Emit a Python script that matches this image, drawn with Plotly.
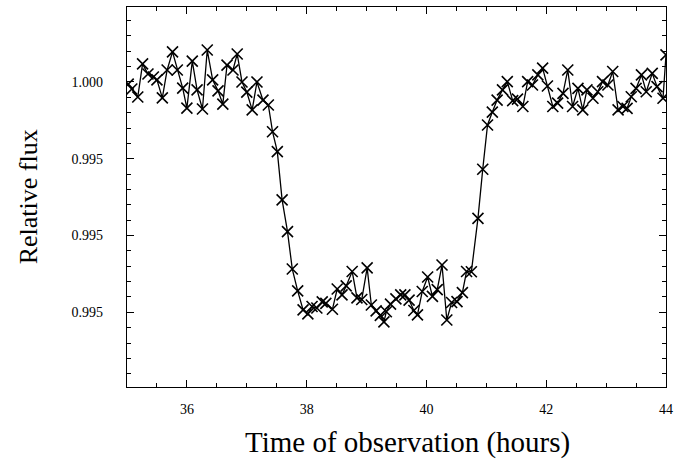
import plotly.graph_objects as go

time_hours = [35.02, 35.08, 35.18, 35.26, 35.35, 35.44, 35.50, 35.59, 35.67, 35.76,
              35.84, 35.93, 36.00, 36.09, 36.17, 36.26, 36.34, 36.43, 36.52, 36.60,
              36.67, 36.77, 36.84, 36.92, 37.00, 37.09, 37.17, 37.27, 37.36, 37.43,
              37.51, 37.59, 37.68, 37.76, 37.85, 37.94, 38.02, 38.09, 38.17, 38.26,
              38.32, 38.43, 38.51, 38.59, 38.66, 38.76, 38.84, 38.92, 39.01, 39.08,
              39.16, 39.23, 39.29, 39.33, 39.40, 39.49, 39.57, 39.64, 39.71, 39.79,
              39.85, 39.93, 40.02, 40.10, 40.18, 40.26, 40.34, 40.42, 40.51, 40.60,
              40.67, 40.75, 40.86, 40.94, 41.02, 41.10, 41.18, 41.27, 41.35, 41.44,
              41.52, 41.61, 41.69, 41.77, 41.86, 41.94, 42.02, 42.11, 42.19, 42.28,
              42.36, 42.44, 42.53, 42.61, 42.68, 42.78, 42.86, 42.94, 43.03, 43.11,
              43.20, 43.28, 43.35, 43.42, 43.50, 43.59, 43.67, 43.77, 43.85, 43.95,
              44.00]

relative_flux = [0.99993, 0.99977, 0.99951, 1.00059, 1.00026, 1.00016, 1.00007, 0.99948, 1.00039, 1.00098,
                 1.00039, 0.99980, 0.99915, 1.00068, 0.99974, 0.99912, 1.00104, 1.00007, 0.99971, 0.99928,
                 1.00055, 1.00039, 1.00091, 1.00000, 0.99967, 0.99909, 1.00000, 0.99941, 0.99925, 0.99838,
                 0.99773, 0.99616, 0.99513, 0.99391, 0.99320, 0.99258, 0.99245, 0.99269, 0.99264, 0.99284,
                 0.99279, 0.99260, 0.99326, 0.99307, 0.99336, 0.99383, 0.99297, 0.99292, 0.99395, 0.99274,
                 0.99255, 0.99240, 0.99219, 0.99252, 0.99277, 0.99294, 0.99307, 0.99307, 0.99290, 0.99256,
                 0.99242, 0.99318, 0.99365, 0.99302, 0.99324, 0.99404, 0.99225, 0.99282, 0.99285, 0.99314,
                 0.99383, 0.99382, 0.99556, 0.99716, 0.99860, 0.99902, 0.99941, 0.99974, 1.00001, 0.99939,
                 0.99944, 0.99920, 1.00001, 0.99990, 1.00023, 1.00045, 0.99987, 0.99920, 0.99931, 0.99963,
                 1.00039, 0.99920, 0.99979, 0.99909, 0.99974, 0.99947, 0.99968, 1.00001, 0.99990, 1.00034,
                 0.99909, 0.99920, 0.99914, 0.99952, 0.99979, 1.00023, 0.99968, 1.00028, 0.99985, 0.99947,
                 1.00088]

x_tick_vals = [36, 38, 40, 42, 44]
x_tick_text = ["36", "38", "40", "42", "44"]
y_tick_vals = [1.0, 0.9975, 0.995, 0.9925]
y_tick_text = ["1.000", "0.995", "0.995", "0.995"]
x_title = "Time of observation (hours)"
y_title = "Relative flux"

FONT = "Liberation Serif"

fig = go.Figure()
fig.add_trace(go.Scatter(
    x=time_hours, y=relative_flux, mode="lines+markers",
    line=dict(color="black", width=1.3),
    marker=dict(symbol="x-thin", size=11, color="black",
                line=dict(color="black", width=1.6)),
    showlegend=False,
))

axis_common = dict(
    showline=True, linecolor="black", linewidth=1.3, mirror="allticks",
    ticks="inside", ticklen=7, tickwidth=1, tickcolor="black",
    showgrid=False, zeroline=False, automargin=False,
    tickfont=dict(family=FONT, size=14, color="black"),
)

fig.update_xaxes(
    range=[35, 44], tickmode="array", tickvals=x_tick_vals, ticktext=x_tick_text,
    minor=dict(dtick=0.5, tick0=35, ticks="inside", ticklen=4, tickcolor="black", tickwidth=1),
    ticklabelstandoff=9,
    **axis_common,
)
fig.update_yaxes(
    range=[0.99007, 1.00244], tickmode="array", tickvals=y_tick_vals, ticktext=y_tick_text,
    minor=dict(dtick=0.0005, tick0=0.99, ticks="inside", ticklen=4, tickcolor="black", tickwidth=1),
    ticklabelstandoff=20,
    **axis_common,
)

fig.add_annotation(
    text=x_title, xref="paper", yref="paper", x=0.52, y=-0.145,
    xanchor="center", yanchor="middle", showarrow=False,
    font=dict(family=FONT, size=29, color="black"),
)
fig.add_annotation(
    text=y_title, xref="paper", yref="paper", x=-0.183, y=0.5,
    xanchor="center", yanchor="middle", showarrow=False, textangle=-90,
    font=dict(family=FONT, size=26, color="black"),
)

fig.update_layout(
    width=677, height=459,
    margin=dict(l=127, r=11, t=7, b=72),
    plot_bgcolor="white", paper_bgcolor="white",
)

fig.write_html("out.html", config={"displayModeBar": False},
               post_script="document.body.style.margin='0';")
